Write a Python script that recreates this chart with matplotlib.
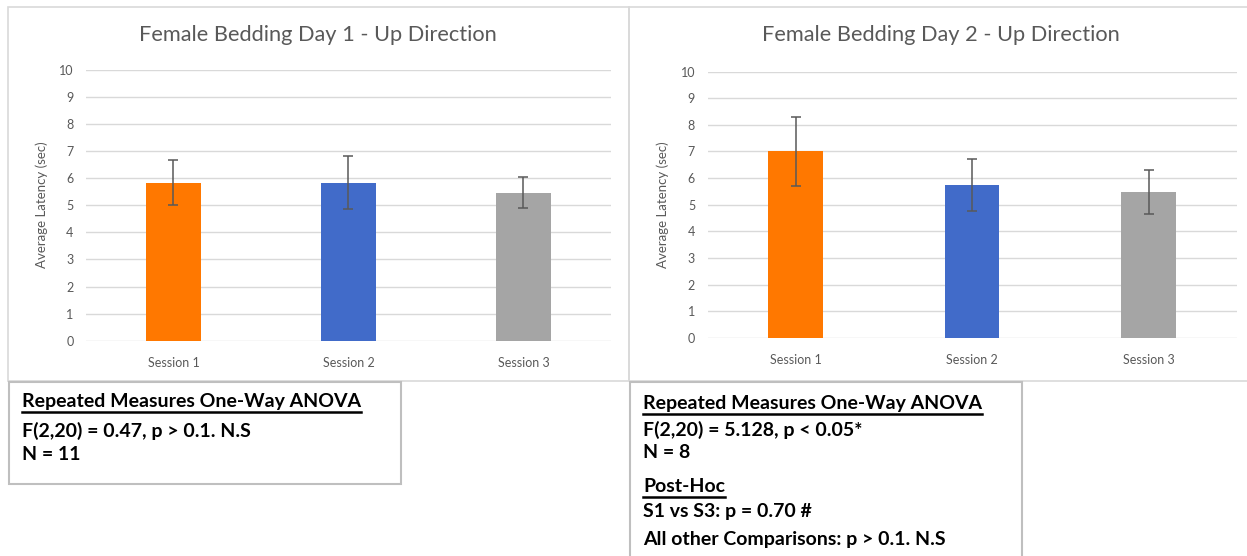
import matplotlib
matplotlib.use("Agg")
import matplotlib.pyplot as plt
from matplotlib.lines import Line2D
from matplotlib.patches import Rectangle

# data
sessions = ["Session 1", "Session 2", "Session 3"]
day1_means = [5.84, 5.84, 5.47]
day1_err = [0.83, 0.99, 0.57]
day2_means = [7.00, 5.74, 5.47]
day2_err = [1.30, 0.97, 0.83]
bar_colors = ["#FF7800", "#416BC9", "#A5A5A5"]
titles = ["Female Bedding Day 1 - Up Direction", "Female Bedding Day 2 - Up Direction"]

stats_day1 = [("Repeated Measures One-Way ANOVA", True),
              ("F(2,20) = 0.47, p > 0.1. N.S", False),
              ("N = 11", False)]
stats_day2 = [("Repeated Measures One-Way ANOVA", True),
              ("F(2,20) = 5.128, p < 0.05*", False),
              ("N = 8", False),
              ("Post-Hoc", True),
              ("S1 vs S3: p = 0.70 #", False),
              ("All other Comparisons: p > 0.1. N.S", False)]

W, H = 1247, 556
plt.rcParams["font.family"] = ["Lato", "DejaVu Sans"]
fig = plt.figure(figsize=(W / 100, H / 100), dpi=100)
GREY = "#595959"


def px_axes(x0, x1, ytop, ybot):
    return fig.add_axes([x0 / W, 1 - ybot / H, (x1 - x0) / W, (ybot - ytop) / H])


def px_rect(x0, y0, x1, y1, color, lw):
    fig.patches.append(Rectangle((x0 / W, 1 - y1 / H), (x1 - x0) / W, (y1 - y0) / H,
                                 transform=fig.transFigure, fill=False,
                                 edgecolor=color, linewidth=lw))


def draw_chart(ax, means, errs, title, title_x, ylab_x):
    x = range(len(sessions))
    ax.bar(x, means, width=0.31, color=bar_colors, zorder=2)
    ax.errorbar(x, means, yerr=errs, fmt="none", ecolor=GREY, elinewidth=1.1,
                capsize=3.5, capthick=1.1, zorder=3)
    ax.set_xlim(-0.5, 2.5)
    ax.set_ylim(0, 10)
    ax.set_yticks(range(0, 11))
    ax.set_xticks(list(x))
    ax.set_xticklabels(sessions)
    ax.grid(axis="y", color="#D9D9D9", linewidth=1, zorder=0)
    for s in ax.spines.values():
        s.set_visible(False)
    ax.tick_params(length=0, labelsize=9, labelcolor=GREY, pad=9)
    ax.tick_params(axis="x", pad=12)
    fig.text(title_x / W, 1 - 35 / H, title, ha="center", va="center",
             fontsize=15.7, color=GREY)
    fig.text(ylab_x / W, 1 - 205 / H, "Average Latency (sec)", ha="center", va="center",
             rotation=90, fontsize=9.5, color=GREY)


# chart panels
px_rect(8, 7, 629, 381, "#D9D9D9", 1.2)
px_rect(629, 7, 1250, 381, "#D9D9D9", 1.2)

ax1 = px_axes(86, 611, 70, 340.7)
draw_chart(ax1, day1_means, day1_err, titles[0], 318, 42)
ax2 = px_axes(707.6, 1236.7, 71.7, 337.7)
draw_chart(ax2, day2_means, day2_err, titles[1], 941, 663)

# stats boxes
px_rect(9, 382, 401, 484, "#BFBFBF", 1.5)
px_rect(630, 382, 1022, 560, "#BFBFBF", 1.5)

texts = []
for lines, x0, ys in [(stats_day1, 22, [402, 431, 454]),
                      (stats_day2, 643, [404, 430, 452, 487, 511, 539])]:
    for (s, ul), y in zip(lines, ys):
        t = fig.text(x0 / W, 1 - y / H, s, ha="left", va="center",
                     fontsize=14, fontweight="bold", color="black")
        texts.append((t, ul, y))

fig.canvas.draw()
r = fig.canvas.get_renderer()
for t, ul, y in texts:
    if ul:
        bb = t.get_window_extent(r)
        yl = 1 - (y + 10) / H
        fig.lines.append(Line2D([bb.x0 / W, bb.x1 / W], [yl, yl], transform=fig.transFigure,
                                color="black", linewidth=1.8))

fig.savefig("out.png", dpi=100)
